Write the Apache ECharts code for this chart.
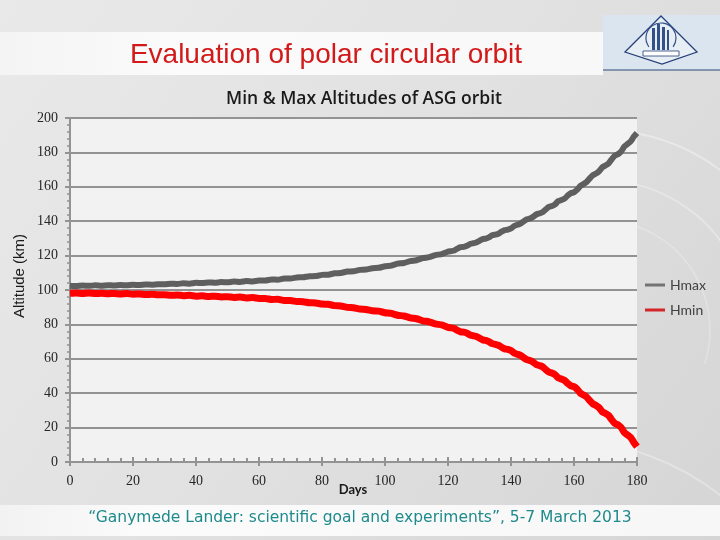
<!DOCTYPE html>
<html>
<head>
<meta charset="utf-8">
<script src="https://cdn.jsdelivr.net/npm/echarts@6/dist/echarts.min.js"></script>
<style>
html,body{margin:0;padding:0;background:#e2e2e2;}
#chart{width:720px;height:540px;}
</style>
</head>
<body>
<div id="chart"></div>
<script>
// ---- data ----
var days = [
  0,2,4,6,8,10,12,14,16,18,20,22,24,26,28,30,32,34,36,38,
  40,42,44,46,48,50,52,54,56,58,60,62,64,66,68,70,72,74,76,78,
  80,82,84,86,88,90,92,94,96,98,100,102,104,106,108,110,112,114,116,118,
  120,121,122,123,124,125,126,127,128,129,130,131,132,133,134,135,136,137,138,139,
  140,141,142,143,144,145,146,147,148,149,150,151,152,153,154,155,156,157,158,159,
  160,161,162,163,164,165,166,167,168,169,170,171,172,173,174,175,176,177,178,179,180
];
var hmax = [
  102.5,102.3,102.6,102.4,102.7,102.5,102.8,102.6,102.9,102.7,
  103.0,102.9,103.2,103.1,103.4,103.3,103.7,103.5,103.9,103.7,
  104.2,104.0,104.4,104.2,104.6,104.5,104.9,104.7,105.2,105.0,
  105.5,105.5,106.1,106.0,106.7,106.7,107.3,107.4,108.0,108.1,
  108.8,108.9,109.7,109.9,110.7,110.9,111.7,111.9,112.7,112.9,
  113.8,114.2,115.3,115.7,116.8,117.3,118.5,119.1,120.3,120.9,
  122.3,122.6,123.0,124.1,124.9,125.1,125.7,126.8,127.2,127.6,
  128.6,129.6,129.9,130.6,131.8,132.2,132.7,133.9,134.8,135.1,
  135.8,137.2,137.9,138.6,139.9,141.1,141.6,142.5,143.9,144.5,
  145.2,146.8,148.3,148.8,149.8,151.7,152.3,153.1,154.9,156.3,
  156.8,158.3,160.5,161.6,162.8,164.9,166.8,167.7,169.1,171.4,
  172.4,173.6,176.1,178.2,179.0,180.6,183.5,184.9,186.4,189.2,
  191.3
];
var hmin = [
  98.1,98.3,98.0,98.2,97.9,98.1,97.8,98.0,97.7,97.9,
  97.6,97.7,97.4,97.5,97.2,97.3,96.9,97.1,96.7,96.9,
  96.4,96.6,96.2,96.4,96.0,96.1,95.7,95.9,95.4,95.6,
  95.1,95.1,94.5,94.6,93.9,93.9,93.3,93.2,92.6,92.5,
  91.8,91.7,90.9,90.7,89.9,89.7,88.9,88.7,87.9,87.7,
  86.8,86.4,85.3,84.9,83.8,83.3,82.1,81.5,80.3,79.7,
  78.3,78.0,77.6,76.5,75.7,75.5,74.9,73.8,73.4,73.0,
  72.0,71.0,70.7,70.0,68.8,68.4,67.9,66.7,65.8,65.5,
  64.8,63.4,62.7,62.0,60.7,59.5,59.0,58.1,56.7,56.1,
  55.4,53.8,52.3,51.8,50.8,48.9,48.3,47.5,45.7,44.3,
  43.8,42.3,40.1,39.0,37.8,35.7,33.8,32.9,31.5,29.2,
  28.2,27.0,24.5,22.4,21.6,20.0,17.1,15.7,14.2,11.4,
  9.0
];
var seriesNames = ['Hmax', 'Hmin'];
var slideTitle = 'Evaluation of polar circular orbit';
var chartTitle = 'Min & Max Altitudes of ASG orbit';
var yName = 'Altitude (km)';
var xName = 'Days';
var footer = '\u201cGanymede Lander: scientific goal and experiments\u201d, 5-7 March 2013';

function pairs(xs, ys){ var out=[]; for(var i=0;i<xs.length;i++){ out.push([xs[i], ys[i]]); } return out; }

var chart = echarts.init(document.getElementById('chart'), null, {renderer:'canvas'});
var gridColor = '#939393';
var labelFont = 'Liberation Serif';

var option = {
  backgroundColor: '#e0e0e0',
  animation: false,
  graphic: [
    { type:'rect', z:-20, shape:{x:0,y:0,width:720,height:540},
      style:{ fill: new echarts.graphic.LinearGradient(0,0,1,1,[{offset:0,color:'#e9e9e9'},{offset:0.5,color:'#e1e1e1'},{offset:1,color:'#d5d5d5'}]) } },
    { type:'arc', z:-19, shape:{cx:600,cy:330,r:200,startAngle:-Math.PI*0.55,endAngle:Math.PI*0.1}, style:{stroke:'rgba(255,255,255,0.35)',lineWidth:2,fill:null} },
    { type:'arc', z:-19, shape:{cx:600,cy:330,r:150,startAngle:-Math.PI*0.55,endAngle:Math.PI*0.1}, style:{stroke:'rgba(255,255,255,0.3)',lineWidth:2,fill:null} },
    { type:'arc', z:-19, shape:{cx:600,cy:330,r:110,startAngle:-Math.PI*0.55,endAngle:Math.PI*0.1}, style:{stroke:'rgba(255,255,255,0.25)',lineWidth:1.5,fill:null} },
    { type:'arc', z:-19, shape:{cx:560,cy:700,r:260,startAngle:-Math.PI*0.62,endAngle:-Math.PI*0.15}, style:{stroke:'rgba(255,255,255,0.3)',lineWidth:2,fill:null} },
    { type:'rect', z:-18, shape:{x:0,y:32,width:603,height:43},
      style:{ fill: new echarts.graphic.LinearGradient(0,0,1,0,[{offset:0,color:'#f4f4f4'},{offset:0.3,color:'#fbfbfb'},{offset:1,color:'#f8f8f8'}]) } },
    { type:'rect', z:-18, shape:{x:0,y:505,width:720,height:31},
      style:{ fill: new echarts.graphic.LinearGradient(0,0,1,0,[{offset:0,color:'#f2f2f2'},{offset:0.2,color:'#fbfbfb'},{offset:1,color:'#f7f7f7'}]) } },
    // logo
    { type:'rect', z:50, shape:{x:603,y:15,width:117,height:55}, style:{fill:'#dbe5ef'} },
    { type:'line', z:51, shape:{x1:603,y1:70,x2:720,y2:70}, style:{stroke:'#2a4a7a',lineWidth:1.2} },
    { type:'polygon', z:51, shape:{points:[[661,16],[697,52],[662,64],[625,52]]}, style:{fill:'rgba(255,255,255,0.35)',stroke:'#27407a',lineWidth:1.3} },
    { type:'rect', z:52, shape:{x:652,y:28,width:3,height:22}, style:{fill:'#34508a'} },
    { type:'rect', z:52, shape:{x:657,y:24,width:3,height:26}, style:{fill:'#34508a'} },
    { type:'rect', z:52, shape:{x:662,y:27,width:3,height:23}, style:{fill:'#34508a'} },
    { type:'rect', z:52, shape:{x:667,y:30,width:2,height:20}, style:{fill:'#34508a'} },
    { type:'arc', z:52, shape:{cx:661,cy:38,r:15,startAngle:Math.PI*0.8,endAngle:Math.PI*2.2}, style:{stroke:'#34508a',lineWidth:1.2,fill:null} },
    { type:'rect', z:52, shape:{x:643,y:51,width:36,height:5}, style:{fill:'#ffffff',stroke:'#27407a',lineWidth:0.8} },
    // axis names
    { type:'text', z:60, x:20, y:276, rotation:Math.PI/2,
      style:{ text:yName, fontFamily:'Liberation Sans', fontSize:15, fill:'#1a1a1a', textAlign:'center', textVerticalAlign:'middle' } },
    { type:'text', z:60, x:353, y:490,
      style:{ text:xName, fontFamily:'Lato', fontSize:13, fontWeight:'bold', fill:'#1a1a1a', textAlign:'center', textVerticalAlign:'middle' } },
    // footer
    { type:'text', z:60, left:'center', top:510,
      style:{ text: footer, fontFamily:'DejaVu Sans', fontSize:15.5, fill:'#1f8a8c' } }
  ],
  title: [
    { text: slideTitle, left: 321, top: 36, textAlign: 'center',
      textStyle: { fontFamily: 'Liberation Sans', fontSize: 28, fontWeight: 'normal', color: '#d21a1a' } },
    { text: chartTitle, left: 359, top: 85, textAlign: 'center',
      textStyle: { fontFamily: 'Open Sans', fontSize: 17.5, fontWeight: 600, color: '#1a1a1a' } }
  ],
  legend: {
    orient: 'vertical', left: 640, top: 273, itemWidth: 20, itemHeight: 3, itemGap: 11,
    icon: 'rect',
    textStyle: { fontFamily: 'Lato', fontSize: 14, color: '#404040' },
    data: [
      { name: seriesNames[0], itemStyle: { color: '#737373' } },
      { name: seriesNames[1], itemStyle: { color: '#d2262b' } }
    ]
  },
  grid: { left: 70, right: 83, top: 118, bottom: 78, show: true, backgroundColor: '#f2f2f2', borderWidth: 0 },
  xAxis: [
    { type: 'value', min: 0, max: 180, interval: 20,
      axisLine: { show: true, lineStyle: { color: gridColor, width: 2 } },
      axisTick: { show: true, inside: true, length: 5, lineStyle: { color: gridColor, width: 2 } },
      minorTick: { show: true, splitNumber: 5, length: 4, lineStyle: { color: gridColor, width: 2 } },
      axisLabel: { margin: 12, fontFamily: labelFont, fontSize: 14, color: '#262626' },
      splitLine: { show: false }
    },
    { type: 'value', min: 0, max: 180, interval: 20, position: 'bottom', offset: 0,
      axisLine: { show: false },
      axisTick: { show: true, inside: false, length: 4, lineStyle: { color: gridColor, width: 2 } },
      axisLabel: { show: false }, splitLine: { show: false }
    }
  ],
  yAxis: {
    type: 'value', min: 0, max: 200, interval: 20,
    axisLine: { show: true, lineStyle: { color: gridColor, width: 2 } },
    axisTick: { show: true, length: 5, lineStyle: { color: gridColor, width: 2 } },
    minorTick: { show: true, splitNumber: 5, length: 3, lineStyle: { color: gridColor, width: 1.5 } },
    axisLabel: { margin: 12, fontFamily: labelFont, fontSize: 14, color: '#262626' },
    splitLine: { show: true, lineStyle: { color: gridColor, width: 2 } }
  },
  series: [
    { name: seriesNames[0], type: 'line', xAxisIndex: 0, data: pairs(days, hmax),
      showSymbol: false, smooth: 0.15, lineStyle: { color: '#5f5f5f', width: 6 }, itemStyle: { color: '#5f5f5f' }, z: 3 },
    { name: seriesNames[1], type: 'line', xAxisIndex: 0, data: pairs(days, hmin),
      showSymbol: false, smooth: 0.15, lineStyle: { color: '#ff0000', width: 7 }, itemStyle: { color: '#ff0000' }, z: 4 }
  ]
};
chart.setOption(option);
</script>
</body>
</html>
